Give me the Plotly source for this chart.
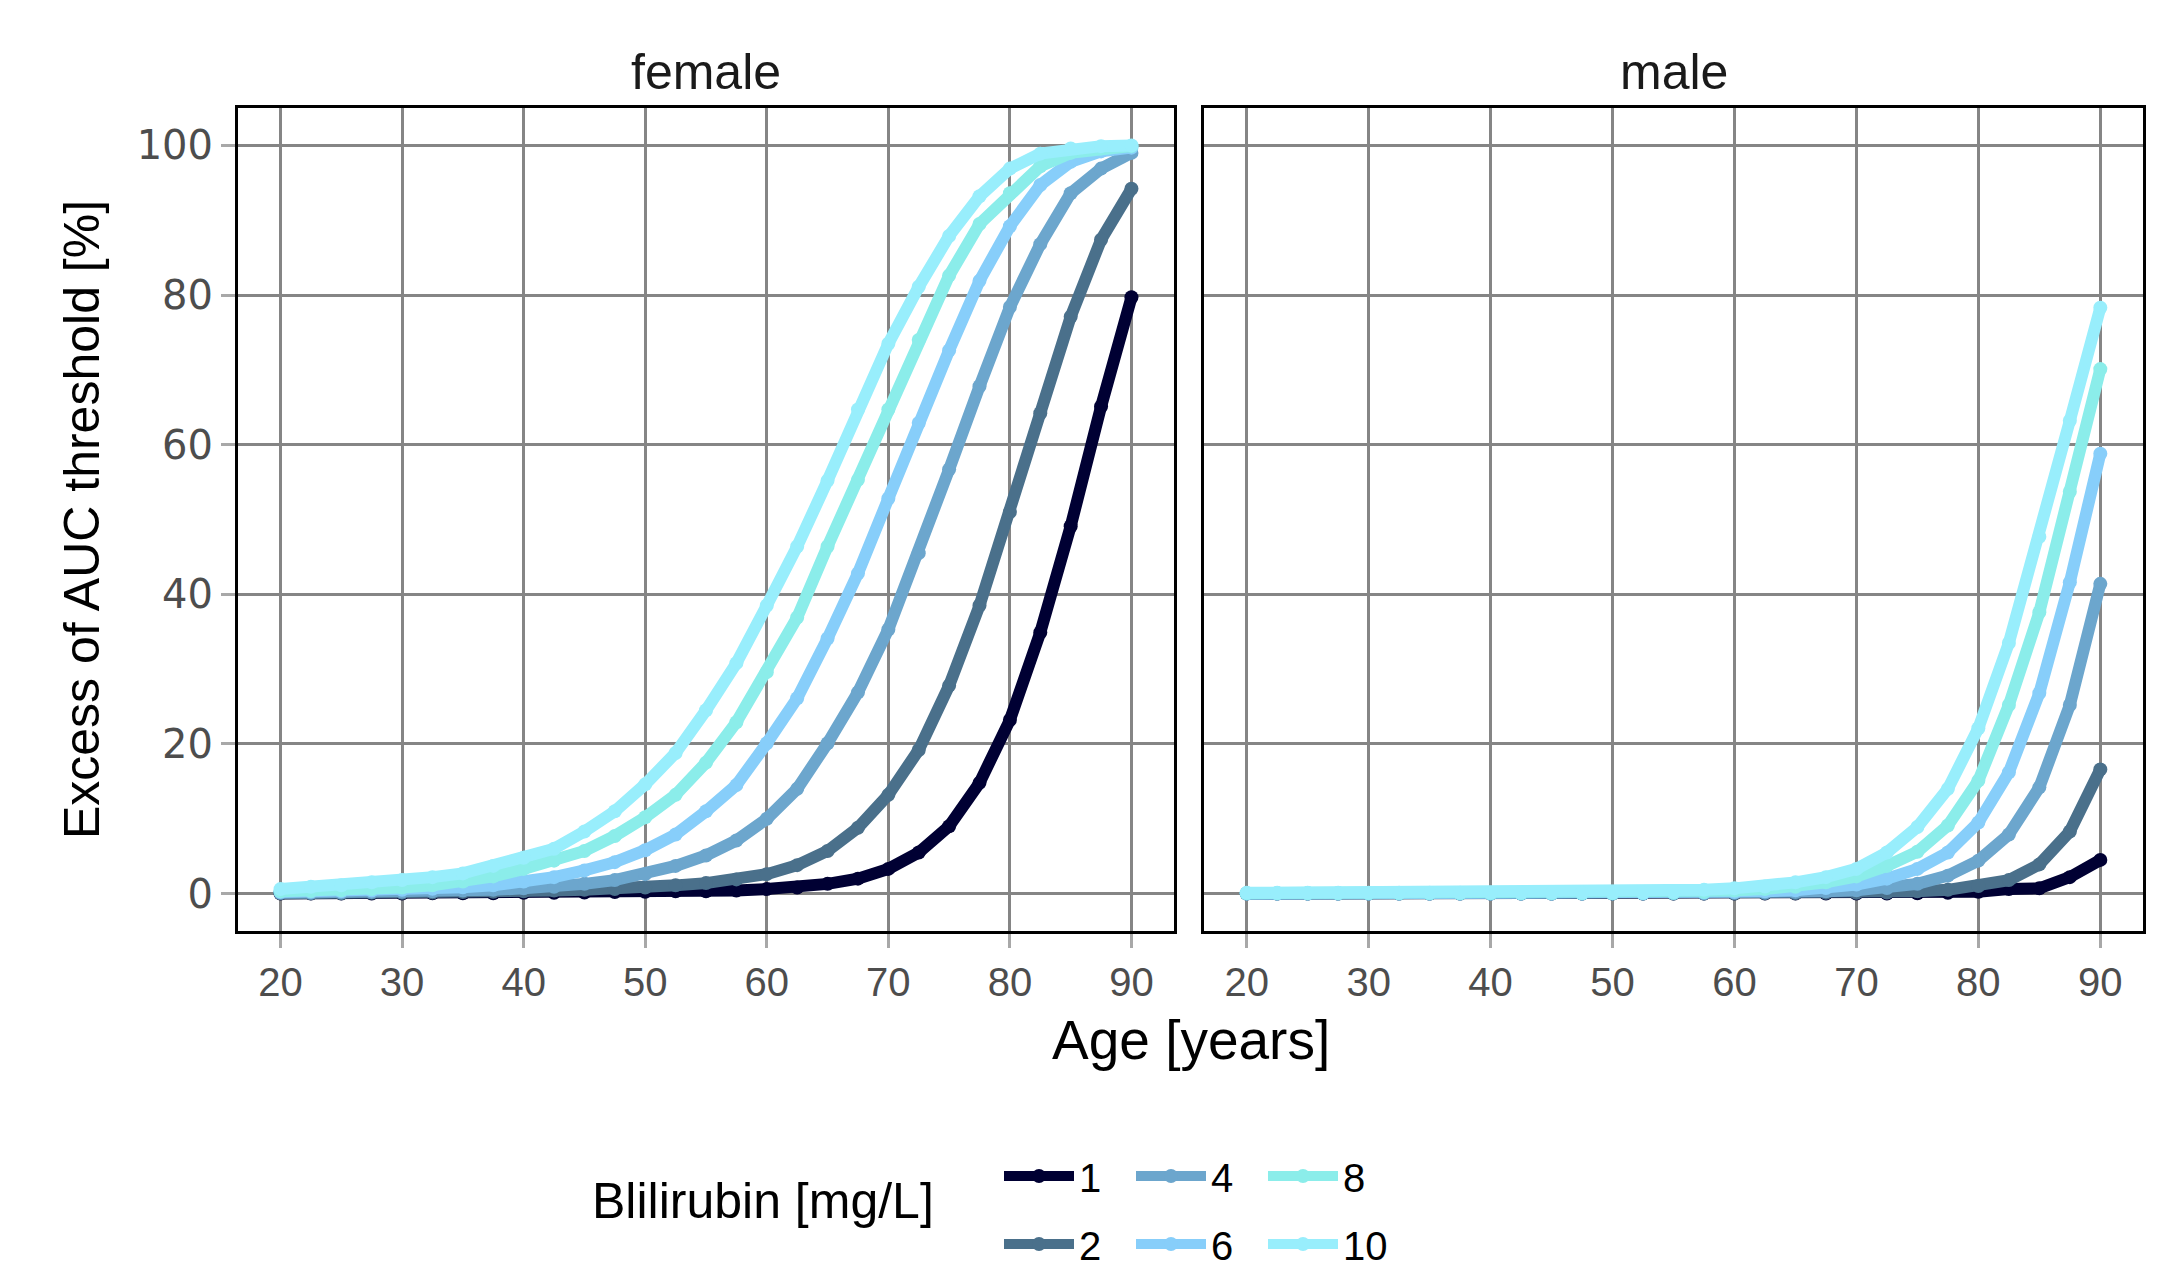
import plotly.graph_objects as go

ages = [20, 22.5, 25, 27.5, 30, 32.5, 35, 37.5, 40, 42.5, 45, 47.5, 50, 52.5, 55,
        57.5, 60, 62.5, 65, 67.5, 70, 72.5, 75, 77.5, 80, 82.5, 85, 87.5, 90]

levels = ["1", "2", "4", "6", "8", "10"]
colors = ["#000033", "#4A708B", "#6CA6CD", "#87CEFA", "#8BEDEA", "#98EEFC"]

female_1 = [0.0, 0.0, 0.0, 0.0, 0.0, 0.05, 0.05, 0.05, 0.1, 0.1, 0.15, 0.2, 0.25, 0.3, 0.3,
            0.4, 0.6, 0.8, 1.3, 2.0, 3.3, 5.5, 9.0, 14.8, 23.2, 34.9, 49.1, 65.1, 79.7]
female_2 = [0.05, 0.05, 0.05, 0.1, 0.1, 0.15, 0.2, 0.25, 0.3, 0.4, 0.5, 0.6, 0.8, 1.1, 1.4,
            1.9, 2.6, 3.8, 5.7, 8.8, 13.2, 19.2, 27.8, 38.5, 51.0, 64.2, 77.1, 87.4, 94.2]
female_4 = [0.1, 0.1, 0.15, 0.2, 0.25, 0.3, 0.4, 0.5, 0.7, 0.9, 1.3, 1.8, 2.6, 3.7, 5.1,
            7.1, 10.0, 14.0, 20.1, 26.9, 35.3, 45.5, 56.7, 67.8, 78.4, 86.8, 93.6, 96.9, 99.0]
female_6 = [0.2, 0.25, 0.3, 0.4, 0.5, 0.65, 0.85, 1.1, 1.6, 2.2, 3.1, 4.2, 5.8, 7.9, 11.0,
            14.5, 20.1, 26.1, 34.1, 42.8, 52.8, 62.9, 72.6, 81.9, 89.2, 94.7, 97.8, 99.2, 99.7]
female_8 = [0.3, 0.35, 0.45, 0.6, 0.8, 1.1, 1.6, 2.3, 3.3, 4.4, 5.7, 7.7, 10.2, 13.2, 17.5,
            22.9, 29.6, 36.9, 46.4, 55.3, 64.7, 74.0, 82.6, 89.5, 93.6, 97.2, 99.0, 99.6, 99.9]
female_10 = [0.6, 0.9, 1.1, 1.5, 1.8, 2.2, 2.7, 3.7, 4.8, 6.0, 8.3, 11.0, 14.6, 18.8, 24.5,
             30.8, 38.5, 46.4, 55.2, 64.7, 73.5, 81.1, 87.9, 93.2, 96.9, 98.9, 99.6, 99.9, 100.0]

male_1 = [0.0, 0.0, 0.0, 0.0, 0.0, 0.0, 0.0, 0.0, 0.0, 0.0, 0.0, 0.0, 0.0, 0.0, 0.0,
          0.0, 0.0, 0.0, 0.0, 0.0, 0.0, 0.0, 0.05, 0.1, 0.25, 0.6, 0.7, 2.2, 4.5]
male_2 = [0.0, 0.0, 0.0, 0.0, 0.0, 0.0, 0.0, 0.0, 0.0, 0.0, 0.0, 0.0, 0.0, 0.0, 0.0,
          0.0, 0.0, 0.05, 0.05, 0.1, 0.1, 0.15, 0.3, 0.5, 1.0, 1.8, 3.9, 8.3, 16.6]
male_4 = [0.0, 0.0, 0.0, 0.0, 0.0, 0.0, 0.0, 0.0, 0.0, 0.0, 0.0, 0.0, 0.0, 0.0, 0.05,
          0.05, 0.1, 0.15, 0.2, 0.3, 0.45, 0.75, 1.3, 2.4, 4.4, 7.9, 14.2, 25.2, 41.4]
male_6 = [0.0, 0.0, 0.0, 0.0, 0.0, 0.0, 0.0, 0.0, 0.0, 0.0, 0.0, 0.0, 0.05, 0.05, 0.1,
          0.15, 0.2, 0.3, 0.45, 0.75, 1.2, 2.0, 3.3, 5.5, 9.5, 16.2, 26.8, 41.6, 58.8]
male_8 = [0.05, 0.05, 0.05, 0.05, 0.05, 0.05, 0.05, 0.05, 0.05, 0.05, 0.05, 0.05, 0.05, 0.1, 0.1,
          0.2, 0.4, 0.6, 0.9, 1.5, 2.3, 3.7, 5.6, 9.1, 15.1, 25.2, 37.6, 53.7, 70.1]
male_10 = [0.1, 0.1, 0.1, 0.1, 0.1, 0.1, 0.1, 0.1, 0.1, 0.1, 0.1, 0.1, 0.1, 0.1, 0.2,
           0.5, 0.7, 0.95, 1.5, 2.2, 3.3, 5.5, 8.9, 14.0, 22.1, 33.5, 47.7, 63.2, 78.3]

female = [female_1, female_2, female_4, female_6, female_8, female_10]
male = [male_1, male_2, male_4, male_6, male_8, male_10]

panel_titles = ["female", "male"]
x_ticks = [20, 30, 40, 50, 60, 70, 80, 90]
y_ticks = [0, 20, 40, 60, 80, 100]

FONT = "Liberation Sans, Arial, Helvetica, sans-serif"
YFONT = "DejaVu Sans, Liberation Sans, sans-serif"
LINE_W = 12
MARK_SIZE = 14

fig = go.Figure()

legend_of = {"1": "legend", "4": "legend", "8": "legend",
             "2": "legend2", "6": "legend2", "10": "legend2"}

for lvl, col, ys in zip(levels, colors, female):
    fig.add_trace(go.Scatter(
        x=ages, y=ys, mode="lines+markers", name=lvl,
        line=dict(color=col, width=LINE_W),
        marker=dict(color=col, size=MARK_SIZE),
        xaxis="x", yaxis="y", legendgroup=lvl, legend=legend_of[lvl],
        showlegend=True,
    ))
for lvl, col, ys in zip(levels, colors, male):
    fig.add_trace(go.Scatter(
        x=ages, y=ys, mode="lines+markers", name=lvl,
        line=dict(color=col, width=LINE_W),
        marker=dict(color=col, size=MARK_SIZE),
        xaxis="x2", yaxis="y2", legendgroup=lvl, showlegend=False,
    ))

axis_common = dict(
    showgrid=True, gridcolor="#858585", gridwidth=2.5,
    showline=True, linecolor="black", linewidth=3, mirror=True,
    zeroline=False, automargin=False,
    ticks="outside", ticklen=14, tickwidth=2.5, tickcolor="#A8A8A8",
)
xtickfont = dict(family=FONT, size=40, color="#4D4D4D")
ytickfont = dict(family=YFONT, size=40, color="#4D4D4D")

# page body has an 8px margin; figure coordinates below are relative to it
W, H = 2141, 1261
L, R, T, B = 230, 6, 100, 338
pw = W - L - R
ph = H - T - B
f_right = (1166 - L) / pw
m_left = (1196 - L) / pw
bottom = H - B


def py(fig_y):
    return (bottom - fig_y) / ph


fig.update_layout(
    width=W, height=H,
    margin=dict(l=L, r=R, t=T, b=B, autoexpand=False),
    paper_bgcolor="white", plot_bgcolor="white",
    font=dict(family=FONT, color="black"),
    xaxis=dict(domain=[0, f_right], range=[16.5, 93.5], tickvals=x_ticks, anchor="y",
               tickfont=xtickfont, **axis_common),
    xaxis2=dict(domain=[m_left, 1], range=[16.5, 93.5], tickvals=x_ticks, anchor="y2",
                tickfont=xtickfont, **axis_common),
    yaxis=dict(domain=[0, 1], range=[-5, 105], tickvals=y_ticks, anchor="x",
               tickfont=ytickfont,
               title=dict(text="Excess of AUC threshold [%]", font=dict(family=FONT, size=50, color="black"),
                          standoff=22),
               **axis_common),
    yaxis2=dict(domain=[0, 1], range=[-5, 105], tickvals=y_ticks, anchor="x2", matches="y",
                **{**axis_common, "ticks": "", "showticklabels": False}),
    legend=dict(orientation="h", x=(991 - L) / pw, xanchor="left", y=py(1168), yanchor="middle",
                font=dict(family=FONT, size=40, color="black"), itemwidth=70,
                entrywidth=47, bgcolor="rgba(0,0,0,0)", traceorder="normal"),
    legend2=dict(orientation="h", x=(991 - L) / pw, xanchor="left", y=py(1236), yanchor="middle",
                 font=dict(family=FONT, size=40, color="black"), itemwidth=70,
                 entrywidth=47, bgcolor="rgba(0,0,0,0)", traceorder="normal"),
    showlegend=True,
)

annotations = [
    dict(text=panel_titles[0], xref="x domain", yref="paper", x=0.5, y=1, yanchor="middle",
         yshift=36, showarrow=False, font=dict(family=FONT, size=50, color="#1A1A1A")),
    dict(text=panel_titles[1], xref="x2 domain", yref="paper", x=0.5, y=1, yanchor="middle",
         yshift=36, showarrow=False, font=dict(family=FONT, size=50, color="#1A1A1A")),
    dict(text="Age [years]", xref="paper", yref="paper", x=0.5, y=py(1032), yanchor="middle",
         xanchor="center", showarrow=False, font=dict(family=FONT, size=55, color="black")),
    dict(text="Blilirubin [mg/L]", xref="paper", yref="paper", x=(582 - L) / pw, y=py(1193),
         xanchor="left", yanchor="middle", showarrow=False,
         font=dict(family=FONT, size=50, color="black")),
]
fig.update_layout(annotations=annotations)

fig.write_html("out.html")
